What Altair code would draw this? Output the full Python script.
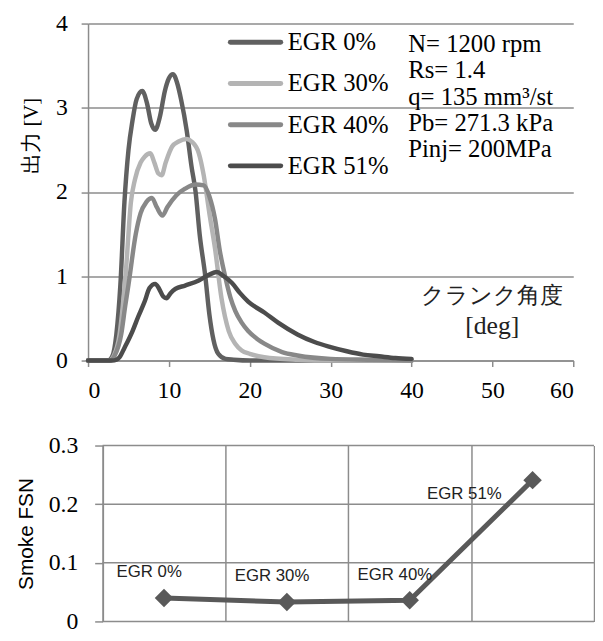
import altair as alt
import pandas as pd

# ---------------- data ----------------
series = ["EGR 0%", "EGR 30%", "EGR 40%", "EGR 51%"]
colors = ["#606060", "#b4b4b4", "#888888", "#4c4c4c"]

deg_egr0 = [0, 2.5, 3.0, 3.5, 4.0, 4.5, 5.0, 5.5, 6.0, 6.7, 7.3, 7.8, 8.3, 8.9, 9.5, 10.0, 10.5,
            11.0, 11.5, 12.2, 12.8, 13.3, 13.8, 14.5, 15.0, 15.5, 16.1, 17.0, 18.0, 20, 25, 30, 35, 40]
out_egr0 = [0, 0, 0.05, 0.31, 0.9, 1.88, 2.5, 2.85, 3.1, 3.2, 3.05, 2.82, 2.74, 2.9, 3.2, 3.35, 3.40,
            3.3, 3.1, 2.73, 2.3, 2.0, 1.5, 1.0, 0.55, 0.25, 0.08, 0.02, 0.01, 0, 0, 0, 0, 0]

deg_egr30 = [0, 2.6, 3.2, 3.9, 4.3, 4.7, 5.3, 5.8, 6.5, 7.0, 7.7, 8.2, 8.7, 9.1, 9.6, 10.4, 11.2,
             12.2, 12.8, 13.7, 14.3, 15.0, 15.7, 16.5, 17.4, 18.2, 19.0, 20.0, 21.8, 26, 30, 35, 40]
out_egr30 = [0, 0, 0.06, 0.31, 0.65, 1.09, 1.88, 2.15, 2.35, 2.42, 2.46, 2.35, 2.22, 2.2, 2.35, 2.54, 2.6,
             2.63, 2.6, 2.46, 2.2, 1.75, 1.33, 0.74, 0.35, 0.2, 0.12, 0.08, 0.04, 0.01, 0, 0, 0]

deg_egr40 = [0, 2.7, 3.3, 4.1, 4.6, 5.0, 5.9, 6.5, 7.2, 7.9, 8.5, 9.2, 9.8, 10.9, 12.0, 13.3, 14.3,
             15.0, 15.7, 16.3, 17.0, 17.6, 18.2, 19.0, 19.8, 21.0, 21.8, 24.0, 25.9, 30, 35, 40]
out_egr40 = [0, 0, 0.06, 0.31, 0.65, 0.9, 1.5, 1.75, 1.88, 1.93, 1.82, 1.72, 1.82, 1.96, 2.04, 2.09, 2.08,
             1.95, 1.68, 1.3, 0.98, 0.75, 0.59, 0.45, 0.35, 0.25, 0.2, 0.1, 0.06, 0.02, 0.01, 0]

deg_egr51 = [0, 3.0, 3.5, 3.9, 4.5, 5.5, 6.2, 7.0, 7.6, 8.3, 8.8, 9.3, 9.7, 10.2, 10.8, 12.0, 13.7,
             15.0, 15.9, 16.8, 17.8, 18.8, 19.8, 21.8, 23.5, 25.9, 28, 30, 32, 34, 36, 38, 40]
out_egr51 = [0, 0, 0.01, 0.04, 0.15, 0.35, 0.52, 0.70, 0.86, 0.91, 0.85, 0.76, 0.74, 0.80, 0.85, 0.89, 0.95,
             1.02, 1.05, 1.0, 0.92, 0.8, 0.70, 0.57, 0.45, 0.31, 0.22, 0.16, 0.11, 0.07, 0.05, 0.03, 0.02]

x_ticks = [0, 10, 20, 30, 40, 50, 60]
y_ticks = [0, 1, 2, 3, 4]

conditions = ["N= 1200 rpm", "Rs= 1.4", "q= 135 mm³/st", "Pb= 271.3 kPa", "Pinj= 200MPa"]
x_note = ["クランク角度", "[deg]"]

smoke_cat = ["EGR 0%", "EGR 30%", "EGR 40%", "EGR 51%"]
smoke_fsn = [0.040, 0.033, 0.036, 0.241]
smoke_ticks = [0, 0.1, 0.2, 0.3]
smoke_xgrid = [0, 1, 2, 3, 4]

# ---------------- style ----------------
GRID = "#8c8c8c"
SERIF = "Liberation Serif"
SANS = "Liberation Sans"

rows = []
for name, ds, vs in zip(series, [deg_egr0, deg_egr30, deg_egr40, deg_egr51],
                        [out_egr0, out_egr30, out_egr40, out_egr51]):
    for d, v in zip(ds, vs):
        rows.append({"series": name, "deg": d, "V": v})
df = pd.DataFrame(rows)

color_scale = alt.Scale(domain=series, range=colors)

lines = alt.Chart(df).mark_line(
    strokeWidth=4.5, interpolate="monotone", strokeCap="round", strokeJoin="round"
).encode(
    x=alt.X("deg:Q", scale=alt.Scale(domain=[0, 60], nice=False),
            axis=alt.Axis(values=x_ticks, title=None, grid=False, domainColor=GRID, domainWidth=1.5,
                          tickColor=GRID, tickWidth=1.5, tickSize=6, labelPadding=12,
                          labelFont=SERIF, labelFontSize=24, labelColor="black")),
    y=alt.Y("V:Q", scale=alt.Scale(domain=[0, 4], nice=False),
            axis=alt.Axis(values=y_ticks, title="出力 [V]", grid=True, gridColor=GRID, gridWidth=1.5,
                          domainColor=GRID, domainWidth=1.5, tickColor=GRID, tickWidth=1.5, tickSize=7,
                          labelPadding=14, labelFont=SERIF, labelFontSize=24, labelColor="black",
                          titleFont=SERIF, titleFontSize=21, titleFontWeight="normal", titleColor="black",
                          titlePadding=14, titleY=113)),
    color=alt.Color("series:N", scale=color_scale, legend=None),
)

# legend drawn from the series list
leg_df = pd.DataFrame({"series": series})
leg_y = alt.Y("series:N", sort=series,
              scale=alt.Scale(type="point", domain=series, range=[19, 144], padding=0), axis=None)
leg_rule = alt.Chart(leg_df).mark_rule(strokeWidth=5, strokeCap="round").encode(
    x=alt.value(144), x2=alt.value(195), y=leg_y,
    color=alt.Color("series:N", scale=color_scale, legend=None))
leg_text = alt.Chart(leg_df).mark_text(
    align="left", baseline="middle", font=SERIF, fontSize=25, color="black"
).encode(x=alt.value(202), y=leg_y, text="series:N")

notes = alt.Chart(pd.DataFrame({"k": [0]})).mark_text(
    align="left", baseline="top", font=SERIF, fontSize=25, lineHeight=26.5, color="black"
).encode(x=alt.value(324), y=alt.value(9), text=alt.value(conditions))

xnote1 = alt.Chart(pd.DataFrame({"k": [0]})).mark_text(
    align="center", baseline="middle", font=SERIF, fontSize=23, color="#222222"
).encode(x=alt.value(409), y=alt.value(276), text=alt.value(x_note[0]))
xnote2 = alt.Chart(pd.DataFrame({"k": [0]})).mark_text(
    align="center", baseline="middle", font=SERIF, fontSize=26, color="#222222"
).encode(x=alt.value(409), y=alt.value(306), text=alt.value(x_note[1]))

top = alt.layer(lines, leg_rule, leg_text, notes, xnote1, xnote2).resolve_scale(
    y="independent").properties(width=491, height=341)

# ---------------- smoke chart ----------------
INSET = 14.7    # the lower panel's frame starts a little to the right of the upper one
BW = 512
sx_scale = alt.Scale(domain=[0, 4], range=[INSET, BW], nice=False)
sy_scale = alt.Scale(domain=[0, 0.3], nice=False)

sy_axis = alt.Axis(values=smoke_ticks, title="Smoke  FSN", grid=False, offset=-INSET,
                   domainColor=GRID, domainWidth=1.5, tickColor=GRID, tickWidth=1.5, tickSize=8,
                   labelPadding=17, labelFont=SERIF, labelFontSize=24, labelColor="black",
                   labelExpr="datum.value == 0 ? '0' : format(datum.value, '.1f')",
                   titleFont=SANS, titleFontSize=21, titleFontWeight="normal",
                   titleColor="black", titlePadding=12)
sx_axis = alt.Axis(title=None, labels=False, ticks=False, domain=False, grid=True,
                   values=smoke_xgrid, gridColor=GRID, gridWidth=1.5)

sdf = pd.DataFrame({"cat": smoke_cat, "fsn": smoke_fsn})
base = alt.Chart(sdf).transform_window(idx="row_number()").transform_calculate(
    pos="datum.idx - 0.5")

xs = alt.X("pos:Q", scale=sx_scale, axis=sx_axis)
ys = alt.Y("fsn:Q", scale=sy_scale, axis=sy_axis, title="Smoke  FSN")

hgrid = alt.Chart(pd.DataFrame({"t": smoke_ticks})).mark_rule(color=GRID, strokeWidth=1.5).encode(
    y=alt.Y("t:Q", scale=sy_scale, axis=sy_axis, title="Smoke  FSN"),
    x=alt.value(INSET), x2=alt.value(BW))

sline = base.mark_line(color="#595959", strokeWidth=5).encode(x=xs, y=ys)
spts = base.mark_point(shape="diamond", filled=True, size=350, color="#595959", opacity=1).encode(x=xs, y=ys)
slab1 = base.transform_filter(alt.datum.fsn < 0.1).mark_text(
    font=SANS, fontSize=17, color="#222222", dx=-15, dy=-26
).encode(x=xs, y=ys, text="cat:N")
slab2 = base.transform_filter(alt.datum.fsn >= 0.1).mark_text(
    font=SANS, fontSize=17, color="#222222", dx=-69, dy=14
).encode(x=xs, y=ys, text="cat:N")

bottom = alt.layer(hgrid, sline, spts, slab1, slab2).properties(width=BW, height=178)

chart = alt.vconcat(top, bottom, spacing=32).properties(
    padding={"left": 7, "top": 0, "right": 0, "bottom": 0}
).configure_view(strokeWidth=0)

chart.save("out.html", embed_options={"renderer": "svg", "actions": False})
